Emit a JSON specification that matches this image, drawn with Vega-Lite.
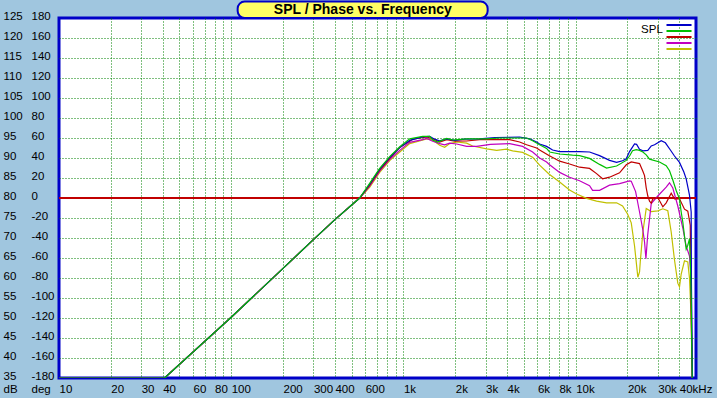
{
  "$schema": "https://vega.github.io/schema/vega-lite/v6.json",
  "width": 637,
  "height": 360,
  "autosize": "none",
  "padding": {"left": 59, "top": 18, "right": 21, "bottom": 20},
  "background": "#A0C6DF",
  "config": {
    "view": {"stroke": "#0000C8", "strokeWidth": 3, "fill": "white"},
    "axis": {"labelFont": "Liberation Sans, Arial, sans-serif", "labelFontSize": 11.5, "labelColor": "black", "titleFont": "Liberation Sans, Arial, sans-serif", "titleFontSize": 11.5, "titleFontWeight": "normal", "titleColor": "black"}
  },
  "datasets": {
    "curves": [
      {"series":"yellow","freq":10,"db":35},{"series":"yellow","freq":41,"db":35},{"series":"yellow","freq":100,"db":50.2},{"series":"yellow","freq":200,"db":62.4},{"series":"yellow","freq":300,"db":69.6},{"series":"yellow","freq":400,"db":74.6},{"series":"yellow","freq":557,"db":80},
      {"series":"yellow","freq":638,"db":82.7},{"series":"yellow","freq":728,"db":86.4},{"series":"yellow","freq":835,"db":89.4},{"series":"yellow","freq":952,"db":91.5},{"series":"yellow","freq":1088,"db":93.6},{"series":"yellow","freq":1365,"db":94.8},{"series":"yellow","freq":1479,"db":94.5},{"series":"yellow","freq":1624,"db":93.2},{"series":"yellow","freq":1736,"db":92.7},{"series":"yellow","freq":1856,"db":93.6},{"series":"yellow","freq":2038,"db":94.0},{"series":"yellow","freq":2329,"db":93.7},{"series":"yellow","freq":2523,"db":93.0},{"series":"yellow","freq":3043,"db":92.3},{"series":"yellow","freq":3478,"db":91.9},{"series":"yellow","freq":3975,"db":92.2},{"series":"yellow","freq":4307,"db":91.8},{"series":"yellow","freq":4922,"db":91.4},{"series":"yellow","freq":5627,"db":90.2},{"series":"yellow","freq":6178,"db":88.2},{"series":"yellow","freq":7000,"db":86.0},{"series":"yellow","freq":8072,"db":84.0},{"series":"yellow","freq":9223,"db":82.0},{"series":"yellow","freq":10128,"db":81.0},{"series":"yellow","freq":11575,"db":79.9},{"series":"yellow","freq":13231,"db":79.2},{"series":"yellow","freq":15120,"db":78.8},{"series":"yellow","freq":17287,"db":78.8},{"series":"yellow","freq":18730,"db":78.0},{"series":"yellow","freq":20023,"db":76.0},{"series":"yellow","freq":21037,"db":73.8},{"series":"yellow","freq":21985,"db":68},{"series":"yellow","freq":22980,"db":60.2},{"series":"yellow","freq":23506,"db":61.5},{"series":"yellow","freq":23729,"db":64},{"series":"yellow","freq":24570,"db":71.5},{"series":"yellow","freq":25700,"db":77.4},{"series":"yellow","freq":27480,"db":76.6},{"series":"yellow","freq":30000,"db":76.8},{"series":"yellow","freq":32090,"db":77.3},{"series":"yellow","freq":34300,"db":76.8},{"series":"yellow","freq":35890,"db":71.5},{"series":"yellow","freq":37510,"db":64.5},{"series":"yellow","freq":39200,"db":58.7},{"series":"yellow","freq":40100,"db":57.8},{"series":"yellow","freq":41020,"db":61},{"series":"yellow","freq":42870,"db":64.3},{"series":"yellow","freq":44800,"db":64},{"series":"yellow","freq":45830,"db":60},{"series":"yellow","freq":46880,"db":50},{"series":"yellow","freq":47700,"db":35},
      {"series":"magenta","freq":10,"db":35},{"series":"magenta","freq":41,"db":35},{"series":"magenta","freq":100,"db":50.2},{"series":"magenta","freq":200,"db":62.4},{"series":"magenta","freq":300,"db":69.6},{"series":"magenta","freq":400,"db":74.6},{"series":"magenta","freq":557,"db":80},
      {"series":"magenta","freq":638,"db":83.0},{"series":"magenta","freq":728,"db":86.7},{"series":"magenta","freq":835,"db":89.7},{"series":"magenta","freq":952,"db":91.9},{"series":"magenta","freq":1088,"db":93.9},{"series":"magenta","freq":1294,"db":94.6},{"series":"magenta","freq":1365,"db":94.9},{"series":"magenta","freq":1479,"db":94.2},{"series":"magenta","freq":1624,"db":93.6},{"series":"magenta","freq":1736,"db":93.3},{"series":"magenta","freq":1856,"db":93.7},{"series":"magenta","freq":2038,"db":93.5},{"series":"magenta","freq":2329,"db":92.9},{"series":"magenta","freq":2663,"db":92.9},{"series":"magenta","freq":3200,"db":93.4},{"series":"magenta","freq":4137,"db":93.6},{"series":"magenta","freq":4922,"db":92.9},{"series":"magenta","freq":5627,"db":91.5},{"series":"magenta","freq":6178,"db":90.0},{"series":"magenta","freq":6782,"db":89.0},{"series":"magenta","freq":7061,"db":88.3},{"series":"magenta","freq":8072,"db":86.4},{"series":"magenta","freq":9223,"db":85.2},{"series":"magenta","freq":10541,"db":84.3},{"series":"magenta","freq":12050,"db":83.1},{"series":"magenta","freq":12544,"db":81.9},{"series":"magenta","freq":13772,"db":81.9},{"series":"magenta","freq":15740,"db":83.2},{"series":"magenta","freq":17994,"db":83.6},{"series":"magenta","freq":20564,"db":84.3},{"series":"magenta","freq":21037,"db":84.2},{"series":"magenta","freq":22300,"db":81.6},{"series":"magenta","freq":23506,"db":76.5},{"series":"magenta","freq":24570,"db":72},{"series":"magenta","freq":25130,"db":69},{"series":"magenta","freq":25600,"db":64.8},{"series":"magenta","freq":26200,"db":70.7},{"series":"magenta","freq":27480,"db":78.6},{"series":"magenta","freq":30000,"db":80.5},{"series":"magenta","freq":33570,"db":82.7},{"series":"magenta","freq":35090,"db":83.8},{"series":"magenta","freq":36670,"db":82.5},{"series":"magenta","freq":39200,"db":78.0},{"series":"magenta","freq":41910,"db":72.5},{"series":"magenta","freq":43850,"db":68},{"series":"magenta","freq":45830,"db":65.5},{"series":"magenta","freq":46880,"db":60},{"series":"magenta","freq":47500,"db":35},
      {"series":"red","freq":10,"db":35},{"series":"red","freq":41,"db":35},{"series":"red","freq":100,"db":50.2},{"series":"red","freq":200,"db":62.4},{"series":"red","freq":300,"db":69.6},{"series":"red","freq":400,"db":74.6},{"series":"red","freq":557,"db":80},
      {"series":"red","freq":638,"db":83.3},{"series":"red","freq":728,"db":87},{"series":"red","freq":835,"db":90},{"series":"red","freq":952,"db":92.6},{"series":"red","freq":1132,"db":94.7},{"series":"red","freq":1365,"db":95.25},{"series":"red","freq":1479,"db":94.8},{"series":"red","freq":1624,"db":94.0},{"series":"red","freq":1783,"db":94.6},{"series":"red","freq":1985,"db":94.2},{"series":"red","freq":2329,"db":94.25},{"series":"red","freq":2771,"db":94.6},{"series":"red","freq":4137,"db":94.6},{"series":"red","freq":4728,"db":94.0},{"series":"red","freq":5192,"db":93.3},{"series":"red","freq":5935,"db":92.5},{"series":"red","freq":6178,"db":92.0},{"series":"red","freq":7000,"db":90.6},{"series":"red","freq":8072,"db":89.2},{"series":"red","freq":9223,"db":88.5},{"series":"red","freq":10541,"db":87.7},{"series":"red","freq":12050,"db":87.4},{"series":"red","freq":13231,"db":86.1},{"series":"red","freq":14336,"db":84.8},{"series":"red","freq":15740,"db":85.2},{"series":"red","freq":17994,"db":86.3},{"series":"red","freq":19676,"db":88.3},{"series":"red","freq":21037,"db":89.0},{"series":"red","freq":23506,"db":88.6},{"series":"red","freq":24570,"db":86.7},{"series":"red","freq":25130,"db":85.6},{"series":"red","freq":25700,"db":82.5},{"series":"red","freq":26250,"db":80.5},{"series":"red","freq":26860,"db":79.2},{"series":"red","freq":27480,"db":78.7},{"series":"red","freq":28070,"db":79.8},{"series":"red","freq":30000,"db":80.1},{"series":"red","freq":31000,"db":79},{"series":"red","freq":32090,"db":77.8},{"series":"red","freq":33570,"db":78.8},{"series":"red","freq":35890,"db":81.2},{"series":"red","freq":37510,"db":79.8},{"series":"red","freq":40100,"db":79.8},{"series":"red","freq":42870,"db":77.2},{"series":"red","freq":44800,"db":76.7},{"series":"red","freq":46300,"db":73.2},{"series":"red","freq":46880,"db":50},{"series":"red","freq":47500,"db":35},
      {"series":"blue","freq":10,"db":35},{"series":"blue","freq":41,"db":35},{"series":"blue","freq":100,"db":50.2},{"series":"blue","freq":200,"db":62.4},{"series":"blue","freq":300,"db":69.6},{"series":"blue","freq":400,"db":74.6},{"series":"blue","freq":557,"db":80},
      {"series":"blue","freq":638,"db":83.5},{"series":"blue","freq":728,"db":87.2},{"series":"blue","freq":835,"db":90.2},{"series":"blue","freq":952,"db":92.6},{"series":"blue","freq":1088,"db":94.4},{"series":"blue","freq":1294,"db":95.3},{"series":"blue","freq":1421,"db":95.4},{"series":"blue","freq":1500,"db":94.8},{"series":"blue","freq":1620,"db":94.3},{"series":"blue","freq":1783,"db":94.8},{"series":"blue","freq":1985,"db":94.4},{"series":"blue","freq":2268,"db":94.7},{"series":"blue","freq":2771,"db":94.8},{"series":"blue","freq":3400,"db":95.1},{"series":"blue","freq":4728,"db":95.25},{"series":"blue","freq":5405,"db":94.8},{"series":"blue","freq":5935,"db":94.0},{"series":"blue","freq":6178,"db":93.5},{"series":"blue","freq":6782,"db":92.9},{"series":"blue","freq":7350,"db":92.0},{"series":"blue","freq":8072,"db":91.6},{"series":"blue","freq":10541,"db":91.6},{"series":"blue","freq":12050,"db":91.5},{"series":"blue","freq":13772,"db":90.6},{"series":"blue","freq":15740,"db":89.4},{"series":"blue","freq":17287,"db":88.9},{"series":"blue","freq":18730,"db":89.3},{"series":"blue","freq":19676,"db":89.8},{"series":"blue","freq":20564,"db":91.6},{"series":"blue","freq":21985,"db":93.5},{"series":"blue","freq":22600,"db":93.4},{"series":"blue","freq":23500,"db":92.2},{"series":"blue","freq":24570,"db":91.8},{"series":"blue","freq":26250,"db":91.9},{"series":"blue","freq":27480,"db":93.0},{"series":"blue","freq":28720,"db":93.3},{"series":"blue","freq":31410,"db":94.3},{"series":"blue","freq":33200,"db":93.8},{"series":"blue","freq":35500,"db":92.0},{"series":"blue","freq":37500,"db":90.5},{"series":"blue","freq":40100,"db":88.9},{"series":"blue","freq":42500,"db":86.5},{"series":"blue","freq":43850,"db":84.8},{"series":"blue","freq":45830,"db":80.7},{"series":"blue","freq":46880,"db":76.5},{"series":"blue","freq":47000,"db":60},{"series":"blue","freq":47700,"db":35},
      {"series":"green","freq":10,"db":35},{"series":"green","freq":41,"db":35},{"series":"green","freq":100,"db":50.2},{"series":"green","freq":200,"db":62.4},{"series":"green","freq":300,"db":69.6},{"series":"green","freq":400,"db":74.6},{"series":"green","freq":557,"db":80},
      {"series":"green","freq":638,"db":83.7},{"series":"green","freq":728,"db":87.4},{"series":"green","freq":835,"db":90.4},{"series":"green","freq":952,"db":92.8},{"series":"green","freq":1088,"db":94.8},{"series":"green","freq":1294,"db":95.4},{"series":"green","freq":1421,"db":95.4},{"series":"green","freq":1479,"db":94.5},{"series":"green","freq":1581,"db":94.0},{"series":"green","freq":1783,"db":94.9},{"series":"green","freq":1932,"db":94.5},{"series":"green","freq":2329,"db":94.8},{"series":"green","freq":3043,"db":94.8},{"series":"green","freq":3621,"db":95.0},{"series":"green","freq":5192,"db":95.0},{"series":"green","freq":5627,"db":94.3},{"series":"green","freq":6178,"db":93.3},{"series":"green","freq":6782,"db":92.4},{"series":"green","freq":7061,"db":91.5},{"series":"green","freq":8072,"db":91.0},{"series":"green","freq":9602,"db":90.7},{"series":"green","freq":10541,"db":90.6},{"series":"green","freq":12050,"db":89.9},{"series":"green","freq":13772,"db":88.4},{"series":"green","freq":15120,"db":87.5},{"series":"green","freq":17287,"db":88.0},{"series":"green","freq":19676,"db":89.4},{"series":"green","freq":20564,"db":90.5},{"series":"green","freq":21400,"db":91.8},{"series":"green","freq":22492,"db":92.1},{"series":"green","freq":23506,"db":91.9},{"series":"green","freq":24570,"db":91.5},{"series":"green","freq":25700,"db":90.8},{"series":"green","freq":26860,"db":89.7},{"series":"green","freq":30700,"db":89.0},{"series":"green","freq":33570,"db":88.1},{"series":"green","freq":35090,"db":86.8},{"series":"green","freq":36670,"db":84.5},{"series":"green","freq":38400,"db":81.8},{"series":"green","freq":40100,"db":79.8},{"series":"green","freq":41020,"db":76.5},{"series":"green","freq":41910,"db":74},{"series":"green","freq":42870,"db":70.5},{"series":"green","freq":43850,"db":67.2},{"series":"green","freq":44800,"db":68.2},{"series":"green","freq":45830,"db":69.8},{"series":"green","freq":46300,"db":65},{"series":"green","freq":46880,"db":55},{"series":"green","freq":47500,"db":35}
    ],
    "keys": [{"series":"blue"},{"series":"green"},{"series":"red"},{"series":"magenta"},{"series":"yellow"}]
  },
  "resolve": {"scale": {"y": "independent"}},
  "layer": [
    {
      "data": {"name": "keys"},
      "mark": {"type": "rule", "color": "#C00000", "strokeWidth": 1.5},
      "encoding": {
        "y": {"datum": 80, "type": "quantitative", "scale": {"domain": [35, 125], "nice": false, "zero": false},
          "axis": {"orient": "left", "values": [35,40,45,50,55,60,65,70,75,80,85,90,95,100,105,110,115,120,125], "grid": false, "domain": false, "ticks": false, "tickSize": 0, "labelPadding": 28, "labelAlign": "left", "labelBaseline": "middle", "labelOffset": -2, "labelFlush": false, "labelOverlap": false, "labelExpr": "'' + (datum.value - 80) * 4", "title": "deg", "titleX": -28, "titleY": 371, "titleAngle": 0, "titleAlign": "left", "titleBaseline": "middle"}}
      }
    },
    {
      "data": {"name": "curves"},
      "mark": {"type": "line", "clip": true, "strokeWidth": 1.2},
      "encoding": {
        "x": {"field": "freq", "type": "quantitative", "scale": {"type": "log", "domain": [10, 50000], "nice": false},
          "axis": {"values": [10,20,30,40,50,60,70,80,90,100,200,300,400,500,600,700,800,900,1000,2000,3000,4000,5000,6000,7000,8000,9000,10000,20000,30000,40000],
            "labelExpr": "indexof([10,20,30,40,60,80,100,200,300,400,600,1000,2000,3000,4000,6000,8000,10000,20000,30000,40000], datum.value) < 0 ? '' : (datum.value == 40000 ? '40kHz' : (datum.value >= 1000 ? (datum.value / 1000) + 'k' : '' + datum.value))",
            "grid": true, "gridColor": "#008000", "gridDash": [1, 2], "gridWidth": 1,
            "gridOpacity": {"condition": {"test": "datum.value == 10", "value": 0}, "value": 1},
            "domain": false, "ticks": false, "tickSize": 0, "labelPadding": 11, "labelAlign": "left", "labelBaseline": "middle", "labelFlush": false, "labelOverlap": false, "title": null}},
        "y": {"field": "db", "type": "quantitative", "scale": {"domain": [35, 125], "nice": false, "zero": false},
          "axis": {"orient": "left", "values": [35,40,45,50,55,60,65,70,75,80,85,90,95,100,105,110,115,120,125],
            "grid": true, "gridColor": "#008000", "gridDash": [1, 2], "gridWidth": 1,
            "gridOpacity": {"condition": {"test": "datum.value == 35 || datum.value == 125 || datum.value == 80", "value": 0}, "value": 1},
            "domain": false, "ticks": false, "tickSize": 0, "labelPadding": 56, "labelAlign": "left", "labelBaseline": "middle", "labelOffset": -2, "labelFlush": false, "labelOverlap": false, "labelExpr": "'' + datum.value",
            "title": "dB", "titleX": -56, "titleY": 371, "titleAngle": 0, "titleAlign": "left", "titleBaseline": "middle"}},
        "color": {"field": "series", "type": "nominal", "legend": null,
          "scale": {"domain": ["blue", "green", "red", "magenta", "yellow"], "range": ["#0000C8", "#00C000", "#C00000", "#C000C0", "#C0C000"]}}
      }
    },
    {
      "data": {"name": "keys"},
      "mark": {"type": "rule", "strokeWidth": 2},
      "encoding": {
        "x": {"datum": 33700, "type": "quantitative"},
        "x2": {"datum": 47100},
        "y": {"field": "series", "type": "nominal", "axis": null,
          "scale": {"type": "point", "domain": ["blue", "green", "red", "magenta", "yellow"], "range": [7, 31], "padding": 0}},
        "color": {"field": "series", "type": "nominal", "legend": null}
      }
    },
    {
      "data": {"values": [{"label": "SPL"}]},
      "mark": {"type": "text", "align": "left", "baseline": "middle", "font": "Liberation Sans, Arial, sans-serif", "fontSize": 11.5, "color": "black"},
      "encoding": {
        "x": {"datum": 24000, "type": "quantitative"},
        "y": {"datum": 121.9, "type": "quantitative", "axis": null, "scale": {"domain": [35, 125], "nice": false, "zero": false}},
        "text": {"field": "label"}
      }
    },
    {
      "data": {"values": [{"label": "SPL / Phase vs. Frequency"}]},
      "mark": {"type": "rect", "fill": "#FFFF64", "stroke": "#0000C8", "strokeWidth": 2, "cornerRadius": 7},
      "encoding": {
        "x": {"datum": 109, "type": "quantitative"},
        "x2": {"datum": 3084},
        "y": {"datum": 129.1, "type": "quantitative", "axis": null, "scale": {"domain": [35, 125], "nice": false, "zero": false}},
        "y2": {"datum": 125}
      }
    },
    {
      "data": {"values": [{"label": "SPL / Phase vs. Frequency"}]},
      "mark": {"type": "text", "align": "center", "baseline": "middle", "font": "Liberation Sans, Arial, sans-serif", "fontWeight": "bold", "fontSize": 14, "color": "black"},
      "encoding": {
        "x": {"datum": 581, "type": "quantitative"},
        "y": {"datum": 127, "type": "quantitative", "axis": null, "scale": {"domain": [35, 125], "nice": false, "zero": false}},
        "text": {"field": "label"}
      }
    }
  ]
}
